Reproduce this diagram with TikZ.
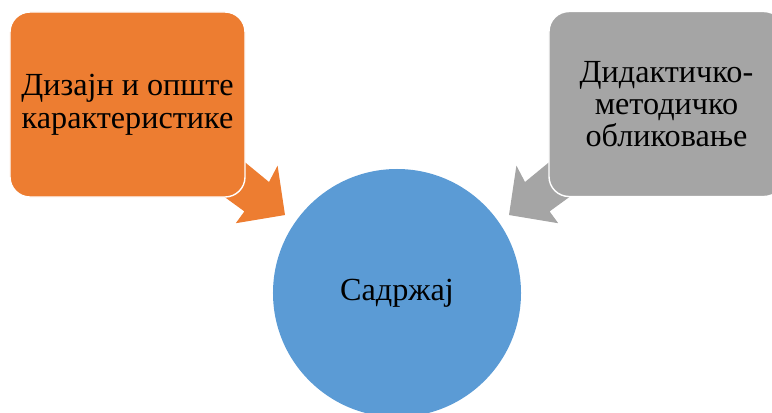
\documentclass[tikz,border=0pt]{standalone}
\usepackage{fontspec}
\setmainfont{Liberation Serif}

\definecolor{designorange}{HTML}{ED7D31}
\definecolor{methodgray}{HTML}{A5A5A5}
\definecolor{contentblue}{HTML}{5B9BD5}

\tikzset{
  topbox/.style={rounded corners=0.6cm, draw=white, line width=1.2pt,
    minimum width=7.05cm, minimum height=5.55cm, align=center, text=black},
  hub/.style={circle, fill=contentblue, minimum size=7.44cm, text=black},
}

\begin{document}
\begin{tikzpicture}[x=0.03cm,y=-0.03cm]
\useasboundingbox (0,0) rectangle (772,412);
\clip (0,0) rectangle (772,412);
% arrows (drawn first, the boxes cover their tails)
\fill[designorange] (220.5,142.1) -- (269.0,182.0) -- (277.6,165.6) -- (285,215)
  -- (235.8,223.2) -- (244.4,211.4) -- (195.8,176.1) -- cycle;
\fill[methodgray] (573.5,142.1) -- (525.0,182.0) -- (516.4,165.6) -- (509,215)
  -- (558.2,223.2) -- (549.6,211.4) -- (598.2,176.1) -- cycle;
% boxes
\node[topbox, fill=designorange, font=\fontsize{27.5}{28.2}\selectfont] (design) at (127.5,104.5)
  {Дизајн и опште\\карактеристике};
\node[topbox, fill=methodgray, font=\fontsize{27.5}{27}\selectfont] (method) at (666.5,104)
  {Дидактичко-\\методичко\\обликовање};
% centre
\node[hub, font=\fontsize{27.5}{32}\selectfont] (content) at (397,293) {Садржај};
\end{tikzpicture}
\end{document}
